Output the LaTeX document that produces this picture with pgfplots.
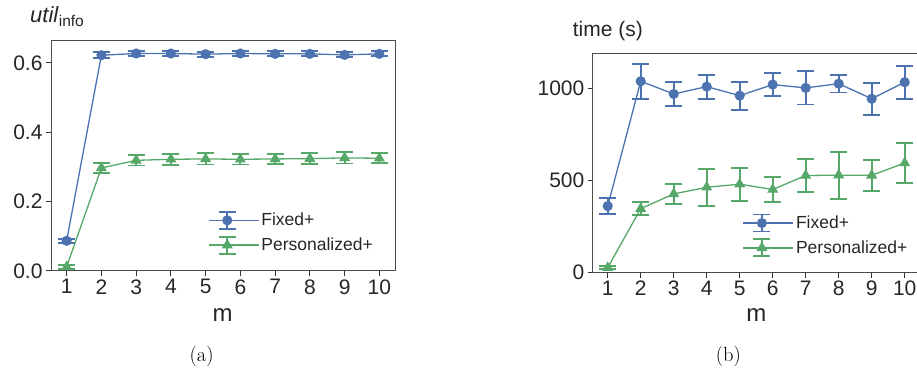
\documentclass[border=0pt]{standalone}
\usepackage{pgfplots}
\usepackage{pgfplotstable}
\pgfplotsset{compat=1.18}
\usepackage{fontspec}
\setsansfont{Liberation Sans}
\definecolor{cblue}{HTML}{4C72B0}
\definecolor{cgreen}{HTML}{55A868}
\definecolor{fr}{HTML}{262626}

\pgfplotstableread{
m  f      fe     p      pe
1  0.087  0.005  0.012  0.005
2  0.622  0.008  0.297  0.014
3  0.627  0.007  0.319  0.015
4  0.627  0.007  0.322  0.016
5  0.625  0.007  0.323  0.016
6  0.627  0.007  0.322  0.015
7  0.626  0.007  0.323  0.015
8  0.626  0.007  0.324  0.016
9  0.623  0.007  0.326  0.016
10 0.626  0.007  0.325  0.014
}\dataA

\pgfplotstableread{
m  f     fe   p    pe
1  362   44   27   8
2  1040  94   348  36
3  971   65   428  55
4  1011  65   464  100
5  962   76   481  90
6  1022  63   452  66
7  1004  90   528  88
8  1027  48   530  128
9  945   86   529  83
10 1035  90   596  107
}\dataB

\pgfplotsset{
  myaxis/.style={
    scale only axis, anchor=south west,
    xmin=0.55, xmax=10.45, ymin=0,
    xtick={1,2,3,4,5,6,7,8,9,10},
    axis line style={draw=black!70, line width=1pt},
    tick align=outside, tick pos=left,
    major tick length=5pt,
    every tick/.style={black!80, line width=1pt},
    tick label style={font=\sffamily\fontsize{21}{24}\selectfont, text=fr},
    /pgf/number format/assume math mode=true,
    legend style={draw=none, fill=none, font=\sffamily\fontsize{17.5}{20}\selectfont, text=fr,
      inner sep=0pt, row sep=6pt, nodes={inner sep=2pt}},
    legend cell align=left,
    legend image code/.code={
      \path (0pt,0pt) -- (50pt,0pt);
      \draw[#1, mark=none, line width=1.4pt] (0pt,0pt) -- (37pt,0pt);
      \draw[#1, mark=none, line width=1.8pt] (18.5pt,-8.5pt) -- (18.5pt,8.5pt);
      \draw[#1, mark=none, line width=1.8pt] (10pt,-8.5pt) -- (27pt,-8.5pt);
      \draw[#1, mark=none, line width=1.8pt] (10pt,8.5pt) -- (27pt,8.5pt);
      \draw[#1, mark repeat=2, mark phase=2] plot coordinates {(0pt,0pt) (18.5pt,0pt) (37pt,0pt)};
    },
  },
  fixedS/.style={color=cblue, line width=1.3pt, mark=*, mark size=4.4pt, mark options={solid}},
  persS/.style={color=cgreen, line width=1.3pt, mark=triangle*, mark size=5.1pt, mark options={solid}},
  ebar/.style={error bars/.cd, y dir=both, y explicit,
    error bar style={line width=1.9pt, solid},
    error mark options={rotate=90, mark size=#1, line width=1.9pt}},
}

\begin{document}
\begin{tikzpicture}
\path[use as bounding box] (0pt,0pt) rectangle (917pt,374pt);

\begin{axis}[myaxis, at={(51pt,103pt)}, width=344pt, height=230pt,
  ymax=0.663, ytick={0,0.2,0.4,0.6}, yticklabels={0.0,0.2,0.4,0.6},
  legend style={at={(0.456,0.262)}, anchor=north west}]
\addplot[fixedS, ebar=8.5pt] table[x=m, y=f, y error=fe] {\dataA};
\addlegendentry{Fixed+}
\addplot[persS, ebar=8.5pt] table[x=m, y=p, y error=pe] {\dataA};
\addlegendentry{Personalized+}
\end{axis}

\begin{axis}[myaxis, at={(592.85pt,101.3pt)}, width=326.7pt, height=219.4pt,
  ymax=1192, ytick={0,500,1000}, yticklabels={0,500,1000},
  legend style={at={(0.458,0.27)}, anchor=north west}]
\addplot[fixedS, ebar=8.5pt] table[x=m, y=f, y error=fe] {\dataB};
\addlegendentry{Fixed+}
\addplot[persS, ebar=8.5pt] table[x=m, y=p, y error=pe] {\dataB};
\addlegendentry{Personalized+}
\end{axis}

% axis titles / labels
\node[anchor=base west, inner sep=0pt, text=fr, font=\sffamily\fontsize{22}{24}\selectfont] at (30pt,351pt) {\textit{util}\raisebox{-4pt}{\fontsize{15.5}{18}\selectfont info}};
\node[anchor=base west, inner sep=0pt, text=fr, font=\sffamily\fontsize{21}{24}\selectfont] at (572.7pt,337.3pt) {time (s)};
\node[anchor=base, inner sep=0pt, text=fr, font=\sffamily\fontsize{24}{26}\selectfont] at (222.7pt,52.3pt) {m};
\node[anchor=base, inner sep=0pt, text=fr, font=\sffamily\fontsize{24}{26}\selectfont] at (756.3pt,52.3pt) {m};
\node[anchor=base, inner sep=0pt, font=\rmfamily\fontsize{20.5}{24}\selectfont] at (201.7pt,12.3pt) {(a)};
\node[anchor=base, inner sep=0pt, font=\rmfamily\fontsize{20.5}{24}\selectfont] at (728.3pt,12.3pt) {(b)};
\end{tikzpicture}
\end{document}
